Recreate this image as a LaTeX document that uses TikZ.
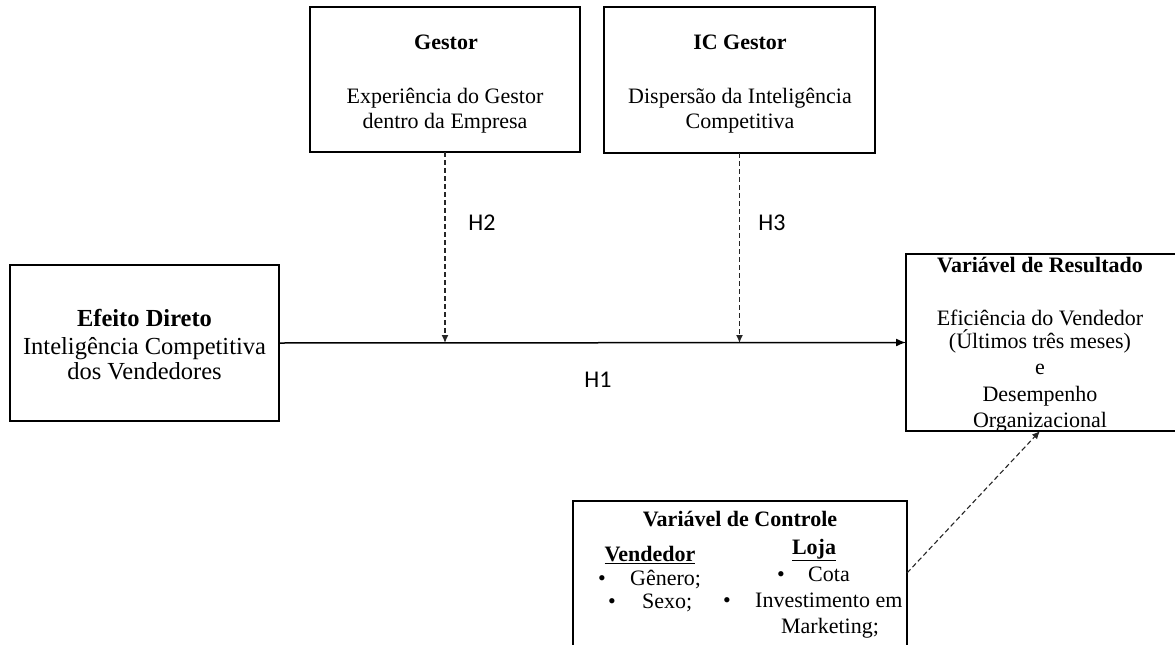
\documentclass[tikz,border=0pt]{standalone}
\usepackage{fontspec}
\setmainfont{Liberation Serif}
\newfontfamily\calfont{Carlito}
\usetikzlibrary{arrows.meta}
\tikzset{
  boxs/.style={draw, line width=1.2pt, inner sep=0pt, outer sep=0pt},
  tx/.style={inner sep=0pt, anchor=base, font=\fontsize{22}{25}\selectfont},
  txb/.style={inner sep=0pt, anchor=base, font=\bfseries\fontsize{22}{25}\selectfont},
  txw/.style={inner sep=0pt, anchor=base west, font=\fontsize{22}{25}\selectfont},
  txl/.style={inner sep=0pt, anchor=base, font=\fontsize{24.5}{27}\selectfont},
  txlb/.style={inner sep=0pt, anchor=base, font=\bfseries\fontsize{24.5}{27}\selectfont},
  hlab/.style={inner sep=0pt, font=\calfont\fontsize{24}{28}\selectfont},
  mainarrow/.style={line width=1.5pt, -{Latex[length=10pt,width=8pt]}},
  modarrow/.style={line width=1.3pt, draw=black!85, dash pattern=on 5pt off 3pt, -{Latex[length=8pt,width=7pt]}},
}
\begin{document}
\begin{tikzpicture}[x=1pt,y=-1pt]
\useasboundingbox (0,0) rectangle (1175,645);
\clip (0,0) rectangle (1175,645);

% boxes
\node[boxs, minimum width=269pt, minimum height=156pt] (ed) at (144.5,343) {};
\node[boxs, minimum width=270pt, minimum height=145pt] (g) at (445,79.5) {};
\node[boxs, minimum width=271pt, minimum height=146pt] (ic) at (739.5,80) {};
\node[boxs, minimum width=276pt, minimum height=177pt] (res) at (1044,342.5) {};
\node[boxs, minimum width=334pt, minimum height=159pt] (ctrl) at (740,580.5) {};

% Efeito Direto texts
\node[txlb] (ed1) at (144.5,326) {Efeito Direto};
\node[txl] (ed2) at (144.5,354) {Inteligência Competitiva};
\node[txl] (ed3) at (144.5,379) {dos Vendedores};

% Gestor texts
\node[txb] (g1) at (446,49) {Gestor};
\node[tx] (g2) at (445,103) {Experiência do Gestor};
\node[tx] (g3) at (445,128) {dentro da Empresa};

% IC Gestor texts
\node[txb] (ic1) at (740,49) {IC Gestor};
\node[tx] (ic2) at (740,103) {Dispersão da Inteligência};
\node[tx] (ic3) at (740,128) {Competitiva};

% Resultado texts
\node[txb] (r1) at (1040,272) {Variável de Resultado};
\node[tx] (r2) at (1040,325) {Eficiência do Vendedor};
\node[tx] (r3) at (1040,348) {(Últimos três meses)};
\node[tx] (r4) at (1040,374) {e};
\node[tx] (r5) at (1040,401) {Desempenho};
\node[tx] (r6) at (1040,427) {Organizacional};

% Controle texts
\node[txb] (c1) at (740,526) {Variável de Controle};
\node[txb] (c2) at (650,561) {\underline{Vendedor}};
\node[txb] (c3) at (814,554) {\underline{Loja}};
\node[txw] (cb1) at (598,585) {•};
\node[txw] (c4) at (630,585) {Gênero;};
\node[txw] (cb2) at (608,608) {•};
\node[txw] (c5) at (642,608) {Sexo;};
\node[txw] (cb3) at (777,581) {•};
\node[txw] (c6) at (808,581) {Cota};
\node[txw] (cb4) at (723,607) {•};
\node[txw] (c7) at (755,607) {Investimento em};
\node[tx] (c8) at (830,633) {Marketing;};

% connectors
\draw[mainarrow] (ed.east) -- (res.west);
\draw[modarrow] (g.south) -- (g.south |- ed.east);
\draw[modarrow] (ic.south) -- (ic.south |- ed.east);
\draw[modarrow, line width=1.1pt] ([yshift=7.5pt]ctrl.east) -- (1040,431);

% labels
\node[hlab] (h2) at (482,223) {H2};
\node[hlab] (h3) at (772,223) {H3};
\node[hlab] (h1) at (598,380) {H1};
\end{tikzpicture}
\end{document}
